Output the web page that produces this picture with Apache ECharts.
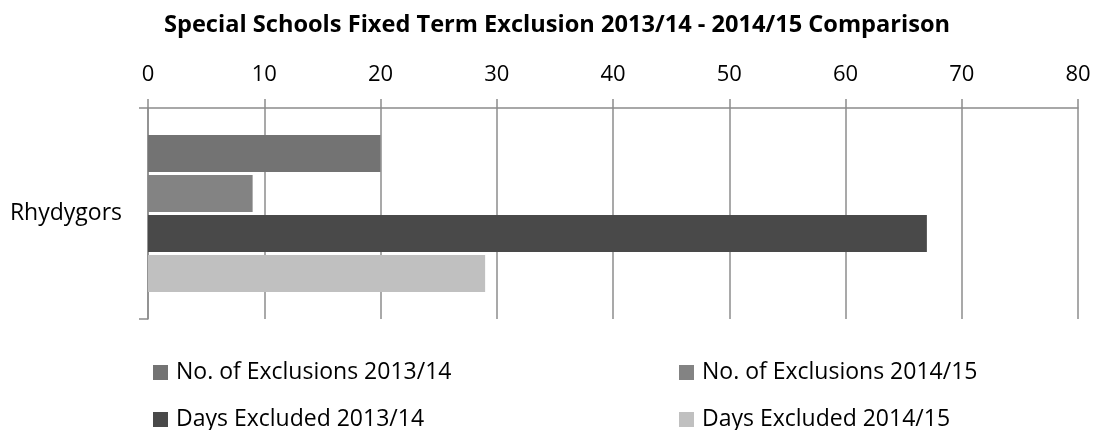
<!DOCTYPE html>
<html>
<head>
<meta charset="utf-8">
<script src="https://cdn.jsdelivr.net/npm/echarts@6/dist/echarts.min.js"></script>
<style>
  html, body { margin: 0; padding: 0; background: #fff; }
  #chart { width: 1097px; height: 430px; }
</style>
</head>
<body>
<div id="chart"></div>
<script>
// data
var categories = ["Rhydygors"];
var seriesNames = ["No. of Exclusions 2013/14", "No. of Exclusions 2014/15", "Days Excluded 2013/14", "Days Excluded 2014/15"];
var exclusions1314 = [20];
var exclusions1415 = [9];
var days1314 = [67];
var days1415 = [29];
var seriesColors = ["#737373", "#838383", "#494949", "#c0c0c0"];

var chart = echarts.init(document.getElementById("chart"));
var font = "'Open Sans', 'Noto Sans', sans-serif";
var values = [exclusions1314, exclusions1415, days1314, days1415];

// two vertical legend columns, as in the original
function legendAt(left, names) {
  return {
    orient: "vertical",
    left: left,
    top: 361,
    height: 90,
    padding: 0,
    itemWidth: 15,
    itemHeight: 15,
    itemGap: 24,
    icon: "rect",
    data: names,
    textStyle: { fontFamily: font, fontSize: 23, lineHeight: 23, color: "#000", padding: [0, 0, 0, 3] }
  };
}

var option = {
  animation: false,
  title: {
    text: "Special Schools Fixed Term Exclusion 2013/14 - 2014/15 Comparison",
    left: 159,
    top: 8,
    textStyle: { fontFamily: font, fontSize: 23.6, fontWeight: "bold", color: "#000" }
  },
  legend: [
    legendAt(153, [seriesNames[0], seriesNames[2]]),
    legendAt(679, [seriesNames[1], seriesNames[3]])
  ],
  grid: { left: 148, right: 19, top: 108, bottom: 111 },
  xAxis: {
    type: "value",
    position: "top",
    min: 0,
    max: 80,
    interval: 10,
    axisLine: { show: true, lineStyle: { color: "#8c8c8c", width: 1.5 } },
    axisTick: { show: true, length: 9, lineStyle: { color: "#8c8c8c", width: 1.5 } },
    axisLabel: { fontFamily: font, fontSize: 22, color: "#000", margin: 22 },
    splitLine: { show: true, lineStyle: { color: "#8c8c8c", width: 1.5 } }
  },
  yAxis: {
    type: "category",
    inverse: true,
    data: categories,
    axisLine: { show: true, lineStyle: { color: "#8c8c8c", width: 1.5 } },
    axisTick: { show: true, length: 9, lineStyle: { color: "#8c8c8c", width: 1.5 } },
    axisLabel: { fontFamily: font, fontSize: 23, color: "#000", margin: 26 }
  },
  series: seriesNames.map(function (name, i) {
    return {
      name: name,
      type: "bar",
      data: values[i],
      barWidth: 37,
      barGap: "8%",
      itemStyle: { color: seriesColors[i] }
    };
  })
};

chart.setOption(option);
</script>
</body>
</html>
